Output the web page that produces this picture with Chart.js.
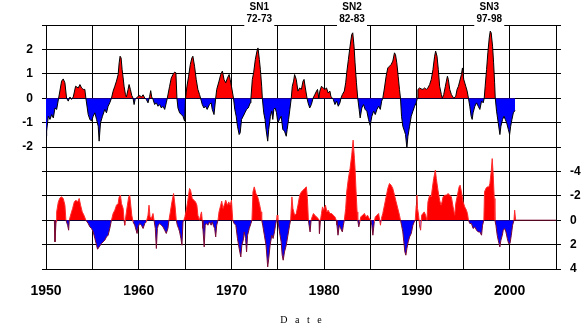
<!DOCTYPE html>
<html><head><meta charset="utf-8">
<script src="https://cdn.jsdelivr.net/npm/chart.js@4/dist/chart.umd.min.js"></script>
<style>html,body{margin:0;padding:0;background:#fff;}#c{display:block;}</style>
</head><body>
<canvas id="c" width="585" height="333"></canvas>
<script>
// Upper index (left axis)
const upperYears = [
1950.00,1950.07,1950.25,1950.43,1950.61,1950.79,1950.97,1951.15,1951.36,1951.68,
1951.86,1952.04,1952.22,1952.40,1952.58,1952.76,1952.94,1953.19,1953.48,1953.66,
1953.84,1954.01,1954.19,1954.30,1954.55,1954.73,1954.91,1955.09,1955.27,1955.45,
1955.63,1955.73,1955.88,1956.09,1956.34,1956.52,1956.70,1956.88,1957.06,1957.24,
1957.42,1957.60,1957.78,1957.89,1957.99,1958.10,1958.21,1958.32,1958.42,1958.57,
1958.67,1958.85,1958.96,1959.10,1959.25,1959.39,1959.50,1959.61,1959.93,1960.11,
1960.29,1960.47,1960.65,1960.82,1961.00,1961.18,1961.29,1961.40,1961.54,1961.72,
1961.90,1962.08,1962.26,1962.44,1962.62,1962.80,1962.97,1963.08,1963.33,1963.51,
1963.69,1963.87,1964.01,1964.12,1964.23,1964.41,1964.59,1964.77,1964.95,1965.05,
1965.20,1965.38,1965.56,1965.73,1965.84,1966.02,1966.20,1966.38,1966.56,1966.67,
1966.85,1967.03,1967.20,1967.38,1967.63,1967.81,1967.93,1968.12,1968.30,1968.41,
1968.66,1968.84,1969.02,1969.20,1969.38,1969.57,1969.75,1969.86,1970.00,1970.22,
1970.36,1970.51,1970.65,1970.83,1970.94,1971.09,1971.27,1971.45,1971.63,1971.81,
1972.03,1972.10,1972.25,1972.39,1972.57,1972.75,1972.86,1973.01,1973.12,1973.26,
1973.33,1973.48,1973.62,1973.73,1973.91,1974.02,1974.20,1974.35,1974.46,1974.57,
1974.71,1974.86,1975.00,1975.18,1975.36,1975.54,1975.72,1975.91,1976.01,1976.16,
1976.30,1976.45,1976.56,1976.70,1976.81,1976.99,1977.17,1977.36,1977.54,1977.72,
1977.83,1977.97,1978.15,1978.26,1978.44,1978.62,1978.80,1978.99,1979.17,1979.28,
1979.42,1979.53,1979.71,1979.89,1980.07,1980.25,1980.43,1980.62,1980.72,1980.87,
1980.98,1981.16,1981.34,1981.52,1981.70,1981.81,1981.96,1982.17,1982.32,1982.43,
1982.61,1982.79,1982.97,1983.08,1983.22,1983.33,1983.48,1983.62,1983.77,1983.88,
1984.06,1984.24,1984.42,1984.60,1984.78,1984.96,1985.14,1985.33,1985.51,1985.69,
1985.87,1986.05,1986.20,1986.32,1986.50,1986.68,1986.86,1987.04,1987.22,1987.40,
1987.58,1987.69,1987.83,1987.98,1988.12,1988.23,1988.34,1988.48,1988.66,1988.77,
1988.92,1989.03,1989.21,1989.39,1989.57,1989.75,1989.93,1990.04,1990.11,1990.29,
1990.47,1990.65,1990.83,1991.01,1991.19,1991.37,1991.55,1991.73,1991.91,1992.02,
1992.17,1992.31,1992.45,1992.64,1992.74,1992.89,1993.07,1993.18,1993.29,1993.39,
1993.54,1993.72,1993.97,1994.19,1994.33,1994.48,1994.62,1994.80,1994.91,1995.05,
1995.27,1995.42,1995.56,1995.70,1995.85,1995.96,1996.06,1996.25,1996.43,1996.61,
1996.79,1996.97,1997.15,1997.26,1997.36,1997.51,1997.65,1997.80,1997.91,1998.01,
1998.16,1998.27,1998.38,1998.45,1998.59,1998.77,1998.95,1999.06,1999.24,1999.39,
1999.53,1999.68,1999.86,2000.00,2000.11,2000.25,2000.40,2000.58];
const upperValues = [
-1.56,-1.35,-0.74,-0.87,-0.67,-0.81,-0.40,-0.46,0,0.70,
0.79,0.63,0,-0.12,0.05,-0.05,0.05,0.49,0.42,0.56,
0.42,0.36,0.36,0,-0.67,-0.87,-0.94,-0.74,-0.60,-0.87,
-1.15,-1.76,-1.01,-0.74,-0.46,-0.60,-0.33,-0.19,0,0.29,
0.49,0.70,0.97,1.45,1.72,1.65,1.17,0.83,0.49,0.15,
0.05,0.36,0.56,0.36,0.11,0,-0.26,-0.05,0.08,0.11,
0.05,0.14,0.01,-0.05,-0.19,0.08,0.31,0.05,-0.05,-0.26,
-0.19,-0.33,-0.26,-0.40,-0.33,-0.46,-0.19,0,0.49,0.83,
0.97,1.07,1.04,0,-0.40,-0.60,-0.67,-0.74,-0.94,0,
0.49,0.90,1.38,1.65,1.72,1.31,0.77,0.36,0.15,0,
-0.26,-0.40,-0.33,-0.46,-0.26,-0.19,-0.46,-0.67,0,0.36,
0.70,0.97,1.11,0.77,0.63,0.83,0.97,0.77,0.49,0,
-0.46,-0.74,-1.15,-1.49,-1.42,-0.87,-0.74,-0.60,-0.46,-0.40,
-0.19,0,0.77,1.04,1.58,1.93,2.06,1.58,1.17,0.49,
0,-0.60,-0.87,-1.28,-1.76,-1.28,-0.74,-0.53,-0.87,-0.46,
-0.40,-0.60,-1.01,-0.87,-0.74,-1.28,-1.35,-1.56,-1.28,-0.87,
-0.46,0,0.49,0.70,0.97,0.77,0.29,0.42,0.36,0.70,
0.77,0.42,0,-0.19,-0.40,-0.26,0,0.15,0.29,0.36,
0.01,0.29,0.49,0.42,0.36,0.42,0.22,0.29,0.08,0,
-0.05,-0.26,-0.12,-0.33,-0.19,0,0.15,0.29,0.63,1.04,
1.58,2.13,2.61,2.68,2.13,1.45,0.63,0,-0.46,-0.81,
-0.40,-0.26,-0.46,-0.53,-0.87,-1.12,-0.74,-0.53,-0.67,-0.46,
-0.33,-0.46,-0.12,0,0.42,0.90,1.24,1.31,1.38,1.52,
1.86,1.79,1.45,0.90,0.36,0,-0.74,-1.15,-1.35,-1.49,
-2.04,-1.56,-1.15,-0.74,-0.53,-0.33,-0.19,0,0.36,0.42,
0.38,0.36,0.42,0.36,0.42,0.56,0.77,1.17,1.72,1.93,
1.72,1.17,0.49,0.15,0,0.15,0.49,0.70,0.90,0.77,
0.36,0.15,0,0.08,0.36,0.49,0.70,0.97,1.24,0.77,
0.49,0.29,0,-0.33,-0.74,-0.87,-0.60,-0.33,-0.19,-0.33,
-0.46,-0.12,-0.19,0,0.49,1.17,1.86,2.47,2.75,2.68,
2.13,1.45,0.63,0,-0.53,-1.01,-1.49,-1.15,-0.87,-0.74,
-0.87,-1.01,-1.28,-1.49,-1.15,-0.87,-0.60,-0.50];

// Lower index (right axis, reversed)
const lowerYears = [
1950.90,1950.97,1951.08,1951.15,1951.33,1951.51,1951.68,1951.86,1952.04,1952.15,
1952.33,1952.44,1952.51,1952.65,1952.87,1953.05,1953.23,1953.41,1953.58,1953.73,
1953.91,1954.09,1954.30,1954.55,1954.73,1954.91,1955.09,1955.27,1955.45,1955.56,
1955.73,1955.99,1956.16,1956.34,1956.52,1956.70,1956.88,1957.06,1957.24,1957.42,
1957.60,1957.78,1957.89,1958.03,1958.14,1958.32,1958.42,1958.49,1958.60,1958.75,
1958.92,1959.03,1959.14,1959.25,1959.39,1959.57,1959.82,1959.93,1960.11,1960.29,
1960.47,1960.65,1960.82,1961.00,1961.11,1961.22,1961.36,1961.54,1961.65,1961.79,
1961.90,1962.01,1962.11,1962.26,1962.44,1962.62,1962.80,1962.97,1963.15,1963.26,
1963.41,1963.58,1963.76,1963.91,1964.05,1964.16,1964.30,1964.41,1964.55,1964.66,
1964.77,1964.87,1964.98,1965.13,1965.30,1965.48,1965.59,1965.77,1965.95,1966.13,
1966.27,1966.38,1966.56,1966.67,1966.77,1966.85,1966.92,1967.06,1967.17,1967.28,
1967.46,1967.63,1967.81,1967.93,1968.04,1968.19,1968.30,1968.41,1968.55,1968.66,
1968.84,1968.95,1969.09,1969.28,1969.38,1969.57,1969.71,1969.86,1970.00,1970.14,
1970.29,1970.47,1970.65,1970.83,1971.01,1971.12,1971.27,1971.38,1971.52,1971.63,
1971.74,1971.92,1972.10,1972.21,1972.32,1972.46,1972.64,1972.83,1973.01,1973.19,
1973.26,1973.37,1973.55,1973.73,1973.91,1974.02,1974.17,1974.35,1974.49,1974.64,
1974.75,1974.86,1974.93,1975.00,1975.18,1975.36,1975.47,1975.58,1975.72,1975.91,
1976.09,1976.27,1976.38,1976.52,1976.63,1976.81,1976.99,1977.17,1977.36,1977.54,
1977.72,1977.90,1978.08,1978.19,1978.30,1978.37,1978.48,1978.59,1978.70,1978.84,
1978.99,1979.17,1979.35,1979.46,1979.49,1979.60,1979.71,1979.82,1979.96,1980.14,
1980.29,1980.43,1980.62,1980.80,1980.98,1981.16,1981.30,1981.38,1981.49,1981.63,
1981.78,1981.96,1982.07,1982.17,1982.32,1982.43,1982.61,1982.79,1982.97,1983.12,
1983.26,1983.33,1983.44,1983.55,1983.62,1983.73,1983.84,1983.95,1984.13,1984.35,
1984.49,1984.67,1984.86,1985.04,1985.14,1985.25,1985.40,1985.51,1985.69,1985.87,
1986.07,1986.17,1986.32,1986.50,1986.68,1986.86,1987.04,1987.22,1987.40,1987.58,
1987.76,1987.94,1988.12,1988.23,1988.34,1988.48,1988.59,1988.70,1988.81,1988.92,
1989.06,1989.21,1989.39,1989.57,1989.71,1989.82,1989.93,1990.00,1990.07,1990.18,
1990.29,1990.40,1990.51,1990.65,1990.79,1990.94,1991.08,1991.19,1991.37,1991.55,
1991.66,1991.81,1991.99,1992.09,1992.27,1992.45,1992.60,1992.71,1992.82,1993.00,
1993.18,1993.36,1993.54,1993.72,1993.90,1994.08,1994.19,1994.37,1994.55,1994.66,
1994.80,1994.98,1995.16,1995.34,1995.45,1995.56,1995.70,1995.88,1996.06,1996.25,
1996.43,1996.61,1996.79,1996.97,1997.08,1997.22,1997.29,1997.44,1997.58,1997.76,
1997.87,1998.01,1998.12,1998.23,1998.34,1998.41,1998.52,1998.66,1998.77,1998.95,
1999.06,1999.21,1999.31,1999.46,1999.60,1999.75,1999.89,2000.04,2000.18,2000.32,
2000.47,2000.54,2000.65,2005.00];
const lowerValues = [
0,1.78,0.14,-0.68,-1.50,-1.83,-1.91,-1.78,-1.23,0,
0.41,0.82,0,-0.41,-0.96,-1.50,-1.64,-1.50,-1.78,-1.23,
-0.68,-0.41,0,0.27,0.55,0.68,0.96,1.50,2.05,2.38,
2.19,1.91,1.78,1.64,1.37,1.23,0.68,0,-0.55,-0.82,
-1.23,-1.37,-1.91,-2.05,-1.37,-0.96,0,0.41,-0.27,-1.09,
-1.91,-2.05,-1.23,-0.41,0.14,0.41,1.09,0.55,0.27,0.41,
0.68,0.27,0.14,-0.41,-1.23,-0.27,-0.14,-0.55,0,0.68,
2.32,0.68,0.41,0.27,0.41,0.55,0.82,1.09,0.68,0,
-0.68,-1.50,-2.19,-1.23,0,0.41,0.68,0.96,1.50,2.05,
0.14,0,-0.27,-0.82,-1.64,-2.60,-2.46,-1.78,-1.64,-1.50,
-1.23,-0.41,0,-0.41,-0.68,0,0.68,2.19,0.41,0.27,
0.41,0.14,0.41,0.14,0.41,0.68,1.37,0.41,0,-0.68,
-1.23,-1.56,-0.96,-1.37,-1.64,-1.23,-1.50,-1.23,-1.64,0,
0.27,0.41,1.50,2.32,3.01,2.05,1.64,0.96,1.50,2.60,
1.23,0.68,0.27,0,-2.32,-2.73,-2.19,-1.91,-1.37,-0.68,
0,0.41,1.23,2.05,3.83,3.14,2.05,1.23,1.50,0.96,
0.41,0,-0.41,0,0.96,1.78,2.87,3.28,2.60,2.05,
1.23,0.41,0,-1.91,-0.96,-0.41,-0.55,-1.23,-2.05,-2.32,
-2.46,-2.60,-2.73,-1.78,0,0.41,0.96,0,-0.27,-0.55,
-0.41,-0.27,-0.14,0,1.09,0,-0.55,-1.09,-0.82,-1.23,
-0.68,-0.82,-0.55,-0.55,-0.41,-0.27,0,0.41,1.23,0.41,
0.68,0.96,0.41,0,-0.96,-2.32,-3.42,-4.23,-5.33,-6.56,
-5.05,-4.23,-2.32,-0.68,0,0.55,0.14,-0.27,-0.41,-0.55,
-0.27,-0.41,-0.14,0,0.41,1.23,0.14,-0.27,-0.41,-0.55,
0.41,-0.14,-0.55,-1.23,-1.91,-2.60,-3.01,-2.87,-2.60,-2.05,
-1.50,-0.96,-0.41,0,0.41,0.96,1.78,2.60,2.87,2.32,
1.78,1.37,1.09,0.41,0.14,0,-1.23,-2.05,-0.96,-0.41,
0.41,0.82,-0.41,-0.55,-0.68,-0.41,0,-1.50,-2.05,-1.91,
-2.60,-3.42,-4.10,-3.42,-2.46,-1.64,-1.23,-1.50,-1.91,-2.05,
-2.05,-2.19,-2.05,-1.91,-1.09,-0.41,-1.37,-2.05,-2.73,-2.87,
-2.32,-1.50,-1.09,-0.82,-0.55,0,0.27,0.27,0.68,0.55,
0.82,0.96,0.96,1.23,0.41,0,-2.32,-2.60,-2.73,-2.73,
-3.01,-3.96,-5.05,-3.69,-1.78,0,0.41,1.23,1.64,2.19,
1.64,1.23,0.82,0.68,0.96,1.50,1.91,1.91,1.23,0.41,
0,-0.82,0,0];

const leftTickLabels = [2, 1, 0, -1, -2];
const rightTickLabels = [-4, -2, 0, 2, 4];
const xTickLabels = [1950, 1960, 1970, 1980, 1990, 2000];
const eventNames = ['SN1', 'SN2', 'SN3'];
const eventPeriods = ['72-73', '82-83', '97-98'];
const eventYears = [1973.0, 1983.0, 1997.8];
const axisTitle = 'D   a   t   e';

const FONT = "'Liberation Sans', Arial, Helvetica, sans-serif";
const RED = '#ff0000', BLUE = '#0000ff';

const eventPlugin = {
  id: 'events',
  afterDraw(chart) {
    const ctx = chart.ctx, xs = chart.scales.x;
    ctx.save();
    eventYears.forEach((yr, i) => {
      const px = xs.getPixelForValue(yr);
      ctx.fillStyle = '#fff';
      ctx.fillRect(px - 15, 13, 30, 13.5);
      ctx.fillStyle = '#000';
      ctx.font = 'bold 10px ' + FONT;
      ctx.textAlign = 'center';
      ctx.textBaseline = 'middle';
      ctx.fillText(eventNames[i], px, 7.5);
      ctx.fillText(eventPeriods[i], px, 19.5);
    });
    ctx.restore();
  }
};

new Chart(document.getElementById('c'), {
  type: 'line',
  data: {
    datasets: [
      {
        label: 'upper',
        data: upperYears.map((x, i) => ({x: x, y: upperValues[i]})),
        yAxisID: 'yL',
        borderColor: '#000',
        borderWidth: 1,
        pointRadius: 0,
        tension: 0,
        fill: {target: 'origin', above: RED, below: BLUE}
      },
      {
        label: 'lower',
        data: lowerYears.map((x, i) => ({x: x, y: lowerValues[i]})),
        yAxisID: 'yR',
        borderWidth: 1,
        borderColor: '#7a0a30',
        segment: {
          borderColor: c => (c.p0.parsed.y < 0 || c.p1.parsed.y < 0) ? '#ff2a2a' : '#7a0a30'
        },
        pointRadius: 0,
        tension: 0,
        fill: {target: 'origin', above: RED, below: BLUE}
      }
    ]
  },
  options: {
    responsive: false,
    animation: false,
    devicePixelRatio: 1,
    layout: {padding: {top: 25, left: 0, right: 0, bottom: 0}},
    plugins: {legend: {display: false}, tooltip: {enabled: false}},
    scales: {
      x: {
        type: 'linear', min: 1950, max: 2005,
        afterFit: s => { s.height = 64; },
        ticks: {
          stepSize: 5, autoSkip: false, maxRotation: 0, padding: 14, color: '#000',
          font: {family: FONT, size: 14, weight: 'bold'},
          callback: v => xTickLabels.includes(v) ? String(v) : ''
        },
        grid: {color: '#000', lineWidth: 1, drawTicks: false},
        border: {color: '#000'},
        title: {
          display: true, text: axisTitle, color: '#000',
          font: {family: "'Liberation Serif', 'Times New Roman', serif", size: 10},
          padding: {top: 0, bottom: 7}
        }
      },
      yL: {
        type: 'linear', position: 'left', min: -7, max: 3,
        afterFit: s => { s.width = 46; },
        ticks: {
          stepSize: 1, autoSkip: false, padding: 9, color: '#000',
          font: {family: FONT, size: 12, weight: 'bold'},
          callback: v => leftTickLabels.includes(v) ? String(v) : ''
        },
        grid: {color: '#000', lineWidth: 1, tickLength: 4},
        border: {color: '#000'}
      },
      yR: {
        type: 'linear', position: 'right', reverse: true, min: -16, max: 4,
        afterFit: s => { s.width = 29; },
        ticks: {
          stepSize: 2, autoSkip: false, padding: 9, color: '#000',
          font: {family: FONT, size: 12, weight: 'bold'},
          callback: v => rightTickLabels.includes(v) ? String(v) : ''
        },
        grid: {drawOnChartArea: false, color: '#000', lineWidth: 1, tickLength: 5},
        border: {display: false}
      }
    }
  },
  plugins: [eventPlugin]
});
</script>
</body></html>
